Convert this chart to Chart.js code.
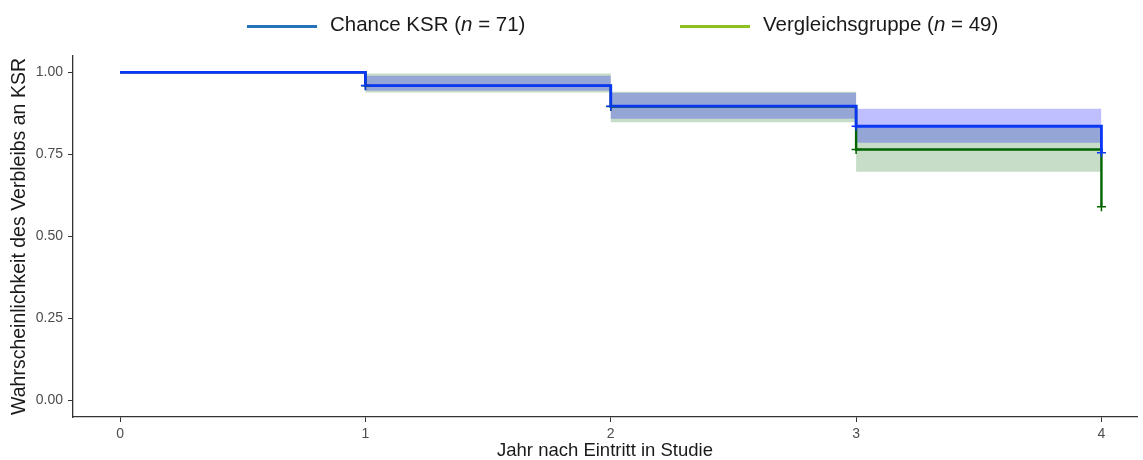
<!DOCTYPE html>
<html>
<head>
<meta charset="utf-8">
<script src="https://cdn.jsdelivr.net/npm/chart.js@4.4.1/dist/chart.umd.min.js"></script>
<style>
  body { margin: 0; background: #fff; }
  #wrap { position: relative; width: 1143px; height: 460px; }
  #legend { position: absolute; top: 11px; left: 0; width: 1143px; height: 26px;
    font-family: "Liberation Sans", Arial, sans-serif; font-size: 20.5px; color: #1a1a1a; }
  .item { position: absolute; top: 0; display: flex; align-items: center; height: 26px; white-space: nowrap; }
  .swatch { width: 70px; height: 3px; margin-right: 13px; margin-top: 4px; }
</style>
</head>
<body>
<div id="wrap">
  <canvas id="chart" width="1143" height="460"></canvas>
  <div id="legend">
    <div class="item" style="left:247px"><span class="swatch" style="background:#2672ba"></span>Chance KSR (<i>n</i>&nbsp;=&nbsp;71)</div>
    <div class="item" style="left:680px"><span class="swatch" style="background:#8cc220"></span>Vergleichsgruppe (<i>n</i>&nbsp;=&nbsp;49)</div>
  </div>
</div>
<script>
const years = [0, 1, 2, 3, 4];
const xTicks = [0, 1, 2, 3, 4];
const yTicks = [0, 0.25, 0.5, 0.75, 1];

// Chance KSR (n = 71)
const ksrSurv = [1, 0.96, 0.897, 0.836, 0.755];
const ksrUpper = [1, 0.99, 0.938, 0.889, 0.889];
const ksrLower = [1, 0.944, 0.859, 0.786, 0.786];

// Vergleichsgruppe (n = 49)
const vglSurv = [1, 0.959, 0.896, 0.765, 0.591];
const vglUpper = [1, 0.997, 0.941, 0.833, 0.833];
const vglLower = [1, 0.939, 0.848, 0.697, 0.697];

const toPts = (ys) => years.map((x, i) => ({ x, y: ys[i] }));
const censor = (ys) => years.slice(1).map((x, i) => ({ x, y: ys[i + 1] }));

const blue = '#0a36f5';
const green = '#006400';
const font = '"Liberation Sans", Arial, sans-serif';

const band = (data, fill, color, order) => ({
  type: 'line', data: toPts(data), stepped: 'before', borderWidth: 0,
  pointRadius: 0, fill, backgroundColor: color, order,
});

const ctx = document.getElementById('chart').getContext('2d');
new Chart(ctx, {
  type: 'line',
  data: {
    datasets: [
      band(vglLower, false, 'transparent', 10),
      band(vglUpper, '-1', 'rgba(0,100,0,0.22)', 9),
      band(ksrLower, false, 'transparent', 8),
      band(ksrUpper, '-1', 'rgba(0,0,255,0.25)', 7),
      {
        data: toPts(vglSurv), stepped: 'before', borderColor: green, borderWidth: 2.4,
        pointRadius: 0, fill: false, order: 4,
      },
      {
        data: toPts(ksrSurv), stepped: 'before', borderColor: blue, borderWidth: 2.8,
        pointRadius: 0, fill: false, order: 3,
      },
      {
        type: 'scatter', data: censor(vglSurv), pointStyle: 'cross', pointRadius: 4.5,
        borderColor: green, borderWidth: 1.5, order: 2,
      },
      {
        type: 'scatter', data: censor(ksrSurv), pointStyle: 'cross', pointRadius: 4.5,
        borderColor: blue, borderWidth: 1.5, order: 1,
      },
    ]
  },
  options: {
    responsive: false,
    animation: false,
    layout: { padding: { top: 56, right: 0, bottom: 0, left: 0 } },
    plugins: { legend: { display: false }, tooltip: { enabled: false } },
    scales: {
      x: {
        type: 'linear', min: -0.192, max: 4.145,
        afterBuildTicks: (s) => { s.ticks = xTicks.map(v => ({ value: v })); },
        afterFit: (s) => { s.height = 43; },
        grid: { drawOnChartArea: false, tickLength: 5, color: '#333', lineWidth: 1 },
        border: { display: true, color: '#333', width: 1.3 },
        ticks: { color: '#4d4d4d', font: { family: font, size: 14 }, padding: 4, maxRotation: 0 },
        title: { display: true, text: 'Jahr nach Eintritt in Studie', color: '#1a1a1a',
          font: { family: font, size: 18.5 }, padding: { top: 0, bottom: -2 } },
      },
      y: {
        min: -0.05, max: 1.05,
        afterBuildTicks: (s) => { s.ticks = yTicks.map(v => ({ value: v })); },
        afterFit: (s) => { s.width = 73; },
        grid: { drawOnChartArea: false, tickLength: 5, color: '#333', lineWidth: 1 },
        border: { display: true, color: '#333', width: 1.3 },
        ticks: { color: '#4d4d4d', font: { family: font, size: 14 }, padding: 5,
          callback: (v) => v.toFixed(2) },
        title: { display: true, text: 'Wahrscheinlichkeit des Verbleibs an KSR', color: '#1a1a1a',
          font: { family: font, size: 19.5 }, padding: { top: 8, bottom: 0 } },
      },
    },
  },
});
</script>
</body>
</html>
